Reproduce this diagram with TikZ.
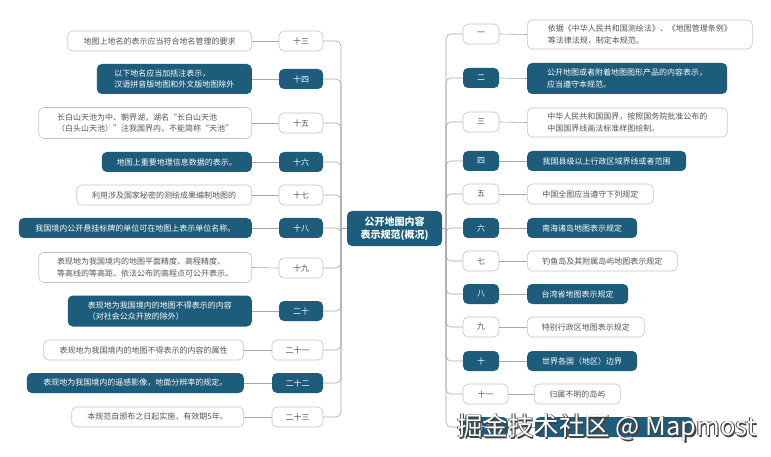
\documentclass[tikz,border=0pt]{standalone}
\usepackage{fontspec}
\setmainfont{Noto Sans CJK SC}
\definecolor{tealf}{HTML}{1D5C7A}
\definecolor{bordg}{HTML}{C4C4C4}
\definecolor{lineg}{HTML}{A8A8A8}
\definecolor{txtg}{HTML}{555555}
\begin{document}
\begin{tikzpicture}[x=1pt,y=-1pt,
  box/.style={rounded corners=5pt, inner sep=0pt, font=\fontsize{8}{11.5}\selectfont, align=left},
  tbw/.style={box, draw=bordg, fill=white, text=txtg, line width=0.6pt},
  tbf/.style={box, fill=tealf, text=white},
  numw/.style={tbw, minimum width=#1, minimum height=20pt, align=center},
  numf/.style={tbf, minimum width=#1, minimum height=20pt, align=center},
  conn/.style={draw=lineg, line width=0.6pt},
  trunk/.style={conn, rounded corners=5pt},
  wmark/.style={anchor=west, inner sep=0pt, font=\fontsize{25.5}{25.5}\selectfont}
]
\useasboundingbox (0,0) rectangle (771,457);
\fill[white] (0,0) rectangle (771,457);

% center
\node[tbf, minimum width=95pt, minimum height=35pt, align=center, font=\fontsize{10}{13}\selectfont\bfseries] (c) at (394.5,228.5) {公开地图内容\\表示规范(概况)};
\coordinate (lt) at (341,228.5);
\coordinate (rt) at (446,228.5);

% left number boxes
\node[numw=44pt] (n13) at (301,41) {十三};
\node[numf=44pt] (n14) at (301,79) {十四};
\node[numw=44pt] (n15) at (301,123) {十五};
\node[numf=44pt] (n16) at (301,162) {十六};
\node[numw=44pt] (n17) at (301,195) {十七};
\node[numf=44pt] (n18) at (301,228) {十八};
\node[numw=44pt] (n19) at (301,268) {十九};
\node[numf=44pt] (n20) at (301,311) {二十};
\node[numw=51pt] (n21) at (297.5,350) {二十一};
\node[numf=51pt] (n22) at (297.5,383) {二十二};
\node[numw=51pt] (n23) at (297.5,417) {二十三};

% left text boxes
\node[tbw, minimum width=184pt, minimum height=20pt, anchor=east] (t13) at (252,41) {地图上地名的表示应当符合地名管理的要求};
\node[tbf, minimum width=155pt, minimum height=30pt, anchor=east] (t14) at (252,79) {以下地名应当加括注表示，\\汉语拼音版地图和外文版地图除外};
\node[tbw, minimum width=213pt, minimum height=31pt, anchor=east] (t15) at (252,123) {长白山天池为中、朝界湖，湖名“长白山天池\\（白头山天池）”注我国界内，不能简称“天池”};
\node[tbf, minimum width=150pt, minimum height=20pt, anchor=east] (t16) at (252,162) {地图上重要地理信息数据的表示。};
\node[tbw, minimum width=175pt, minimum height=20pt, anchor=east] (t17) at (252,195) {利用涉及国家秘密的测绘成果编制地图的};
\node[tbf, minimum width=233pt, minimum height=20pt, anchor=east] (t18) at (252,228) {我国境内公开悬挂标牌的单位可在地图上表示单位名称。};
\node[tbw, minimum width=213pt, minimum height=30pt, anchor=east] (t19) at (252,267.5) {表现地为我国境内的地图平面精度、高程精度、\\等高线的等高距、依法公布的高程点可公开表示。};
\node[tbf, minimum width=184pt, minimum height=31pt, anchor=east] (t20) at (252,311) {表现地为我国境内的地图不得表示的内容\\（对社会公众开放的除外）};
\node[tbw, minimum width=200pt, minimum height=20pt, anchor=east] (t21) at (244,350) {表现地为我国境内的地图不得表示的内容的属性};
\node[tbf, minimum width=217pt, minimum height=20pt, anchor=east] (t22) at (244,383) {表现地为我国境内的遥感影像，地面分辨率的规定。};
\node[tbw, minimum width=172pt, minimum height=20pt, anchor=east] (t23) at (244,417) {本规范自颁布之日起实施，有效期5年。};

% right number boxes
\node[numw=36pt] (n1) at (481,34) {一};
\node[numf=36pt] (n2) at (481,78) {二};
\node[numw=36pt] (n3) at (481,122) {三};
\node[numf=36pt] (n4) at (481,161) {四};
\node[numw=36pt] (n5) at (481,194) {五};
\node[numf=36pt] (n6) at (481,228) {六};
\node[numw=36pt] (n7) at (481,261) {七};
\node[numf=36pt] (n8) at (481,294) {八};
\node[numw=36pt] (n9) at (481,327) {九};
\node[numf=36pt] (n10) at (481,361) {十};
\node[numw=45pt] (n11) at (485.5,394) {十一};
\node[numf=45pt] (n12) at (485.5,427) {十二};

% right text boxes
\node[tbw, minimum width=225pt, minimum height=29pt, anchor=west] (t1) at (527,34.5) {依据《中华人民共和国测绘法》、《地图管理条例》\\等法律法规，制定本规范。};
\node[tbf, minimum width=200pt, minimum height=31pt, anchor=west] (t2) at (527,78.5) {公开地图或者附着地图图形产品的内容表示，\\应当遵守本规范。};
\node[tbw, minimum width=200pt, minimum height=29pt, anchor=west] (t3) at (527,122.5) {中华人民共和国国界，按照国务院批准公布的\\中国国界线画法标准样图绘制。};
\node[tbf, minimum width=159pt, minimum height=20pt, anchor=west] (t4) at (527,161) {我国县级以上行政区域界线或者范围};
\node[tbw, minimum width=126pt, minimum height=20pt, anchor=west] (t5) at (527,194) {中国全图应当遵守下列规定};
\node[tbf, minimum width=110pt, minimum height=20pt, anchor=west] (t6) at (527,228) {南海诸岛地图表示规定};
\node[tbw, minimum width=150pt, minimum height=20pt, anchor=west] (t7) at (527,261) {钓鱼岛及其附属岛屿地图表示规定};
\node[tbf, minimum width=101pt, minimum height=20pt, anchor=west] (t8) at (527,294) {台湾省地图表示规定};
\node[tbw, minimum width=117pt, minimum height=20pt, anchor=west] (t9) at (527,327) {特别行政区地图表示规定};
\node[tbf, minimum width=110pt, minimum height=20pt, anchor=west] (t10) at (527,361) {世界各国（地区）边界};
\node[tbw, minimum width=86pt, minimum height=20pt, anchor=west] (t11) at (534,394) {归属不明的岛屿};
\node[tbf, minimum width=158pt, minimum height=20pt, anchor=west] (t12) at (535,427) {};

% connectors
\draw[conn] (c.west) -- (lt);
\draw[conn] (c.east) -- (rt);
\foreach \k in {13,...,23} {
  \draw[trunk] (lt) |- (n\k.east);
  \draw[conn] (n\k.west) -- (t\k.east);
}
\foreach \k in {1,...,12} {
  \draw[trunk] (rt) |- (n\k.west);
  \draw[conn] (n\k.east) -- (t\k.west);
}

% watermark
\foreach \dx/\dy in {1.2/1.2,-0.7/-0.7,0.8/-0.6} {
  \node[wmark, text=black!75] at (457+\dx,428+\dy) {掘金技术社区 @ Mapmost};
}
\node[wmark, text=white] (wm) at (457,428) {掘金技术社区 @ Mapmost};
\end{tikzpicture}
\end{document}
